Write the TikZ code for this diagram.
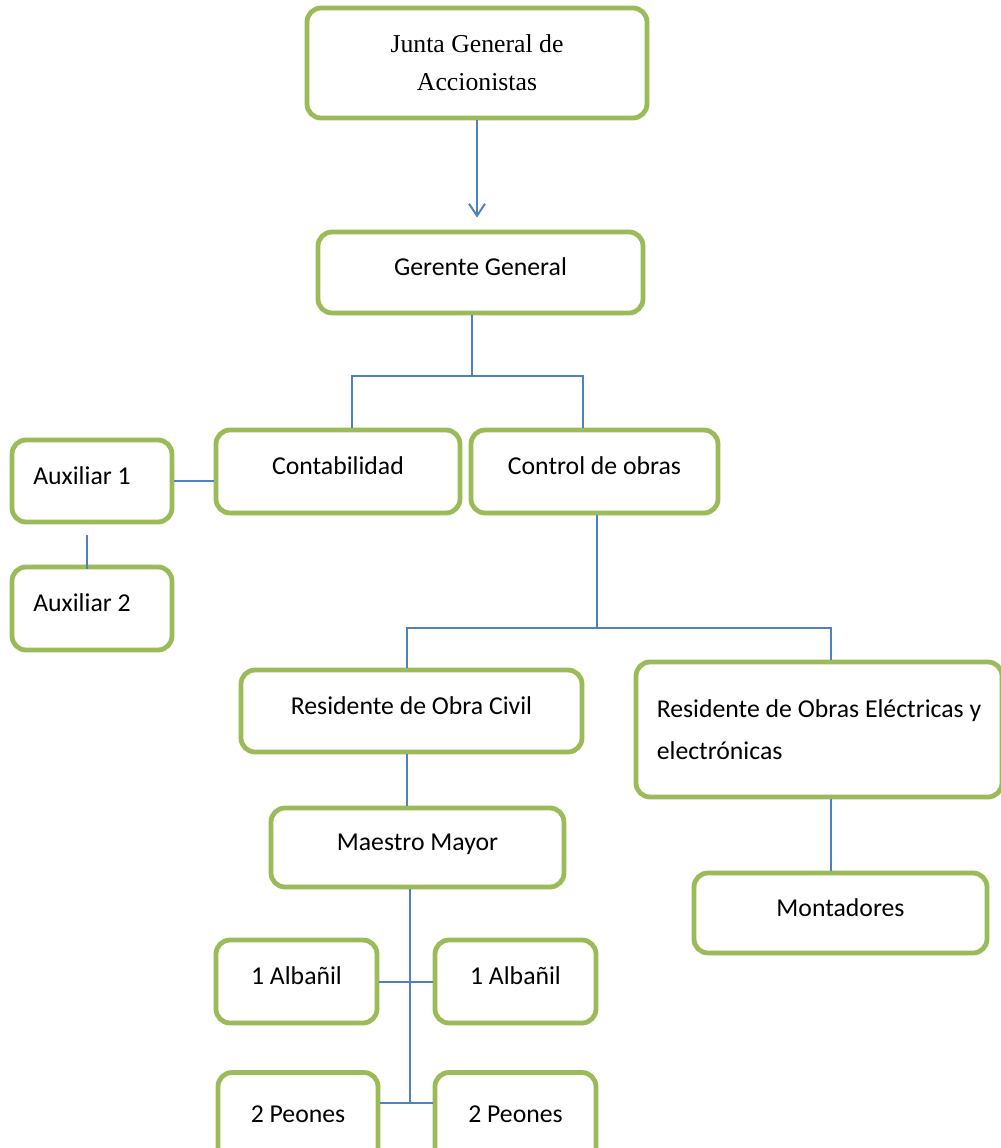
\documentclass[tikz,border=0pt]{standalone}
\usepackage{fontspec}
\setmainfont{Carlito}
\newfontfamily\juntafont{Liberation Serif}
\usetikzlibrary{arrows.meta}
\definecolor{boxgreen}{HTML}{9BBB59}
\definecolor{lineblue}{HTML}{4F81BD}
\tikzset{
  orgbox/.style 2 args={draw=boxgreen, line width=3.6pt, rounded corners=10.5pt,
    fill=white, inner sep=0pt, minimum width=#1*0.75pt, minimum height=#2*0.75pt,
    font=\fontsize{19.3}{28}\selectfont},
  onel/.style={text height=14pt, text depth=9pt},
  conn/.style={draw=lineblue, line width=1.5pt},
}
\begin{document}
\begin{tikzpicture}[x=0.75pt, y=-0.75pt]
\useasboundingbox[fill=white] (0,0) rectangle (1000,1148);

% nodes
\node[orgbox={340}{110}, align=center, font=\juntafont\fontsize{19.3}{28.5}\selectfont] (junta) at (477,63) {Junta General de\\Accionistas};
\node[orgbox={325}{81}, onel] (gg) at (480.5,272.5) {Gerente General};
\node[orgbox={244}{83}, onel] (cont) at (338,471.5) {Contabilidad};
\node[orgbox={247}{83}, onel] (ctrl) at (594.5,471.5) {Control de obras};
\node[orgbox={160}{82}, onel] (aux1) at (92,481) {Auxiliar 1\kern15pt};
\node[orgbox={160}{83}, onel] (aux2) at (92,608.5) {Auxiliar 2\kern15pt};
\node[orgbox={341}{82}, onel] (rc) at (411.5,711) {Residente de Obra Civil};
\node[orgbox={366}{135}, align=left, font=\fontsize{19.3}{31.5}\selectfont] (re) at (819,729.5) {Residente de Obras Eléctricas y\\electrónicas};
\node[orgbox={293}{79}, onel] (mm) at (417.5,847.5) {Maestro Mayor};
\node[orgbox={293}{80}, onel] (mont) at (840.5,913) {Montadores};
\node[orgbox={161}{83}, onel] (alb1) at (296.5,981.5) {1 Albañil};
\node[orgbox={161}{83}, onel] (alb2) at (515.5,981.5) {1 Albañil};
\node[orgbox={160}{93}, onel, yshift=-5.5*0.75pt] (peo1) at (298,1113.5) {2 Peones};
\node[orgbox={161}{93}, onel, yshift=-5.5*0.75pt] (peo2) at (515.5,1113.5) {2 Peones};

% junction points
\coordinate (j1) at (472,376);
\coordinate (j1l) at (352,376);
\coordinate (j1r) at (583,376);
\coordinate (j2) at (597,628);
\coordinate (j2l) at (407,628);
\coordinate (j2r) at (831,628);
\coordinate (j3) at (410,1103);
\coordinate (ax) at (87,0);

% connectors
\draw[conn, -{Straight Barb[length=9pt,width=12pt]}, shorten >=9pt] (junta.south) -- (junta.south |- gg.north);
\draw[conn] (gg.south -| j1) -- (j1);
\draw[conn] (cont.north -| j1l) -- (j1l) -- (j1r) -- (ctrl.north -| j1r);
\draw[conn] (aux1.east) -- (aux1.east -| cont.west);
\draw[conn, shorten <=8pt] (aux1.south -| ax) -- ([yshift=-3pt]aux2.north -| ax);
\draw[conn] (ctrl.south -| j2) -- (j2);
\draw[conn] (re.north -| j2r) -- (j2r) -- (j2l) -- (rc.north -| j2l);
\draw[conn] (rc.south -| j2l) -- (mm.north -| j2l);
\draw[conn] (re.south -| j2r) -- (mont.north -| j2r);
\draw[conn] (mm.south -| j3) -- (j3);
\draw[conn] (alb1.east) -- (alb2.west);
\draw[conn] (peo1.east |- j3) -- (peo2.west |- j3);
\end{tikzpicture}
\end{document}
